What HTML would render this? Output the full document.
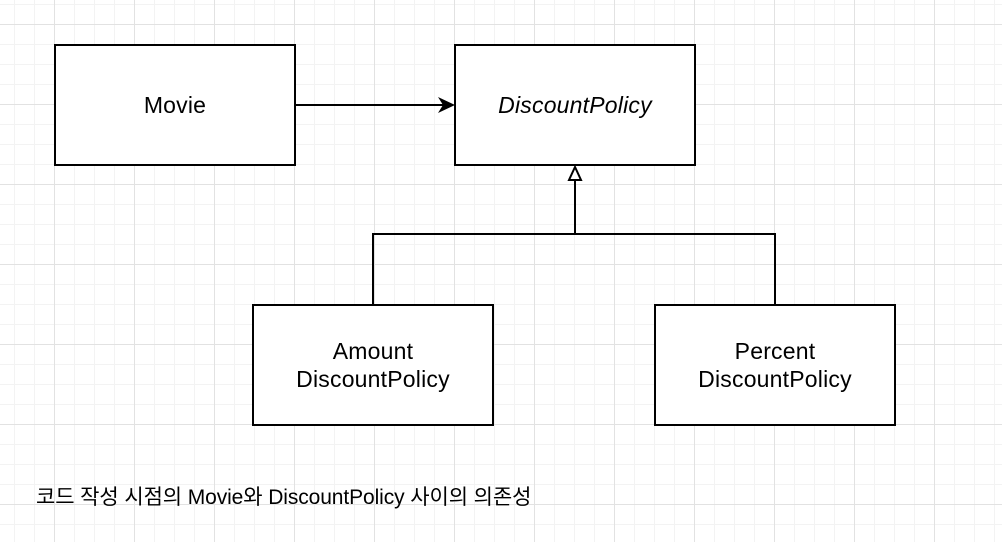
<!DOCTYPE html>
<html><head><meta charset="utf-8"><style>
html,body{margin:0;padding:0;}
body{width:1002px;height:542px;overflow:hidden;background:#fff;position:relative;
background-image:
linear-gradient(to right,#e2e2e2 1px,transparent 1px),
linear-gradient(to bottom,#e2e2e2 1px,transparent 1px),
linear-gradient(to right,#f3f3f3 1px,transparent 1px),
linear-gradient(to bottom,#f3f3f3 1px,transparent 1px);
background-size:80px 80px,80px 80px,20px 20px,20px 20px;
background-position:54px 0,0 24px,14px 0,0 4px;
font-family:"Liberation Sans","Noto Sans CJK KR",sans-serif;}
.b{position:absolute;width:238px;height:118px;border:2px solid #000;background:#fff;box-sizing:content-box;
display:flex;align-items:center;justify-content:center;text-align:center;font-size:23px;line-height:28px;color:#000;letter-spacing:0.2px;}
svg{position:absolute;left:0;top:0;}
.cap{position:absolute;left:36px;top:481px;font-size:21px;white-space:nowrap;color:#000;letter-spacing:-0.1px;}
</style></head><body>
<svg width="1002" height="542">
<g stroke="#000" stroke-width="2" fill="none">
<line x1="296" y1="105" x2="445" y2="105"/>
<polyline points="373,305 373,234 775,234 775,305"/>
<line x1="575" y1="234" x2="575" y2="180"/>
</g>
<path d="M455,105 L438,97 L443,105 L438,113 Z" fill="#000"/>
<path d="M575,167 L569,180 L581,180 Z" fill="#fff" stroke="#000" stroke-width="2"/>
</svg>
<div class="b" style="left:54px;top:44px;">Movie</div>
<div class="b" style="left:454px;top:44px;font-style:italic;">DiscountPolicy</div>
<div class="b" style="left:252px;top:304px;">Amount<br>DiscountPolicy</div>
<div class="b" style="left:654px;top:304px;">Percent<br>DiscountPolicy</div>
<div class="cap">코드 작성 시점의 Movie와 DiscountPolicy 사이의 의존성</div>
</body></html>
